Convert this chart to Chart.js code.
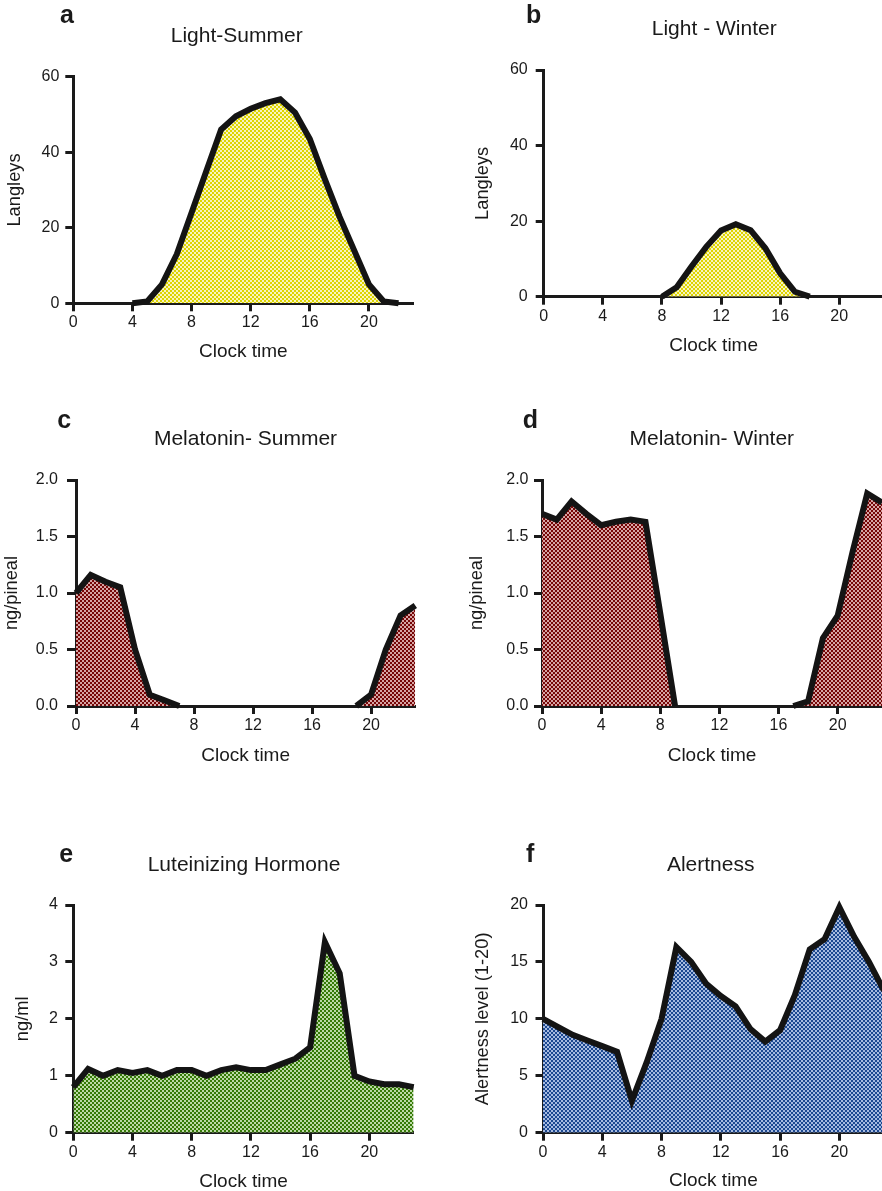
<!DOCTYPE html>
<html>
<head>
<meta charset="utf-8">
<script src="https://cdn.jsdelivr.net/npm/chart.js@4.4.1/dist/chart.umd.min.js"></script>
<style>
  html, body { margin: 0; padding: 0; background: #fff; }
  body { width: 882px; height: 1191px; overflow: hidden; position: relative; }
  canvas { position: absolute; }
</style>
</head>
<body>
<canvas id="pa"></canvas>
<canvas id="pb"></canvas>
<canvas id="pc"></canvas>
<canvas id="pd"></canvas>
<canvas id="pe"></canvas>
<canvas id="pf"></canvas>
<script>
// Hour of day (x values shared by every panel)
const hours = [0, 1, 2, 3, 4, 5, 6, 7, 8, 9, 10, 11, 12, 13, 14, 15, 16, 17, 18, 19, 20, 21, 22, 23];
const hourTicks = [0, 4, 8, 12, 16, 20];

// Series (null = no measurement drawn)
const lightSummer = [null, null, null, null, 0, 0.5, 5, 13, 24, 35, 46, 49.5, 51.5, 53, 54, 50.5, 43.5, 33, 23, 14, 5, 0.5, 0, null];
const lightWinter = [null, null, null, null, null, null, null, null, 0, 2.5, 8, 13.2, 17.5, 19.2, 17.6, 12.8, 6.2, 1.3, 0, null, null, null, null, null];
const melatoninSummer = [1.0, 1.16, 1.1, 1.05, 0.5, 0.1, 0.05, 0, null, null, null, null, null, null, null, null, null, null, null, 0, 0.1, 0.5, 0.8, 0.89];
const melatoninWinter = [1.7, 1.65, 1.81, 1.7, 1.6, 1.63, 1.65, 1.63, 0.82, 0, null, null, null, null, null, null, null, 0, 0.04, 0.6, 0.8, 1.36, 1.88, 1.8];
const luteinizing = [0.8, 1.12, 1.0, 1.1, 1.05, 1.1, 1.0, 1.1, 1.1, 1.0, 1.1, 1.15, 1.1, 1.1, 1.2, 1.3, 1.5, 3.35, 2.8, 1.0, 0.9, 0.85, 0.85, 0.8];
const alertness = [10, 9.3, 8.6, 8.1, 7.6, 7.1, 2.8, 6.2, 10, 16.3, 15, 13.1, 12, 11.1, 9.1, 8, 9, 12.1, 16.1, 17, 19.8, 17.2, 15, 12.5];

// Y tick values
const lightTicks = [0, 20, 40, 60];
const melatoninTicks = [0, 0.5, 1.0, 1.5, 2.0];
const lhTicks = [0, 1, 2, 3, 4];
const alertTicks = [0, 5, 10, 15, 20];

const FONT = '"Liberation Sans", Arial, Helvetica, sans-serif';
const INK = '#1a1a1a';
const CANVAS_H = 380;
const Y_TITLE_SIZE = 18.3;
const X_TITLE_SIZE = 19;

// Small checkerboard fill used under each curve
function checker(dark, light) {
  const c = document.createElement('canvas');
  c.width = 4; c.height = 4;
  const g = c.getContext('2d');
  g.fillStyle = light; g.fillRect(0, 0, 4, 4);
  g.fillStyle = dark; g.fillRect(0, 0, 2, 2); g.fillRect(2, 2, 2, 2);
  return g.createPattern(c, 'repeat');
}

// Panel letter and heading
const panelText = {
  id: 'panelText',
  afterDraw(chart, args, o) {
    const ctx = chart.ctx;
    ctx.save();
    ctx.fillStyle = INK;
    ctx.textBaseline = 'alphabetic';
    ctx.textAlign = 'left';
    ctx.font = 'bold 25px ' + FONT;
    ctx.fillText(o.letter, o.letterX, o.letterY);
    ctx.textAlign = 'center';
    ctx.font = '21px ' + FONT;
    ctx.fillText(o.title, o.titleX, o.titleY);
    ctx.restore();
  }
};

const panels = [
  { id: 'pa', letter: 'a', title: 'Light-Summer', yTitle: 'Langleys', values: lightSummer, yTicks: lightTicks, dec: 0,
    dark: '#ddd400', light: '#f8f4c0',
    g: { cx: 0, cy: 0, cw: 441, left: 73.3, right: 413.3, top: 76.7, bottom: 303.3, yTitleX: 14.5, xTitleY: 351.7,
         yTl: 8, yPad: 6, letterX: 60, letterY: 23.3, titleX: 236.7, titleY: 42.3 } },
  { id: 'pb', letter: 'b', title: 'Light - Winter', yTitle: 'Langleys', values: lightWinter, yTicks: lightTicks, dec: 0,
    dark: '#ddd400', light: '#f8f4c0',
    g: { cx: 441, cy: 0, cw: 460, left: 543.7, right: 883.6, top: 70, bottom: 296.7, yTitleX: 482.5, xTitleY: 345.3,
         yTl: 8, yPad: 8, letterX: 526, letterY: 23.3, titleX: 714.2, titleY: 35 } },
  { id: 'pc', letter: 'c', title: 'Melatonin- Summer', yTitle: 'ng/pineal', values: melatoninSummer, yTicks: melatoninTicks, dec: 1,
    dark: '#760606', light: '#d6a4a4',
    g: { cx: 0, cy: 400, cw: 441, left: 76, right: 415.3, top: 480, bottom: 706, yTitleX: 12, xTitleY: 755.3,
         yTl: 9, yPad: 9, letterX: 57.3, letterY: 428.3, titleX: 245.5, titleY: 445 } },
  { id: 'pd', letter: 'd', title: 'Melatonin- Winter', yTitle: 'ng/pineal', values: melatoninWinter, yTicks: melatoninTicks, dec: 1,
    dark: '#760606', light: '#d6a4a4',
    g: { cx: 441, cy: 400, cw: 460, left: 542, right: 882, top: 480, bottom: 706, yTitleX: 477, xTitleY: 755.3,
         yTl: 8, yPad: 5.5, letterX: 522.7, letterY: 427.7, titleX: 711.8, titleY: 445 } },
  { id: 'pe', letter: 'e', title: 'Luteinizing Hormone', yTitle: 'ng/ml', values: luteinizing, yTicks: lhTicks, dec: 0,
    dark: '#357a06', light: '#bcd9a6',
    g: { cx: 0, cy: 830, cw: 441, left: 73.3, right: 413.7, top: 905, bottom: 1132.7, yTitleX: 23, xTitleY: 1181.7,
         yTl: 8, yPad: 7.5, letterX: 59.3, letterY: 862.3, titleX: 244, titleY: 870.7 } },
  { id: 'pf', letter: 'f', title: 'Alertness', yTitle: 'Alertness level (1-20)', values: alertness, yTicks: alertTicks, dec: 0,
    dark: '#1c4890', light: '#a7bbe0',
    g: { cx: 441, cy: 830, cw: 460, left: 543, right: 883.8, top: 905, bottom: 1132.7, yTitleX: 482.5, xTitleY: 1180.5,
         yTl: 7.5, yPad: 7.5, letterX: 526, letterY: 862.3, titleX: 710.7, titleY: 870.7 } }
];

panels.forEach(p => {
  const g = p.g;
  const canvas = document.getElementById(p.id);
  canvas.width = g.cw; canvas.height = CANVAS_H;
  canvas.style.left = g.cx + 'px'; canvas.style.top = g.cy + 'px';
  canvas.style.width = g.cw + 'px'; canvas.style.height = CANVAS_H + 'px';

  const yHalf = Y_TITLE_SIZE * 1.2 / 2;
  const xHalf = X_TITLE_SIZE * 1.2 / 2;
  const padLeft = g.yTitleX - g.cx - yHalf;
  const yWidth = g.left - g.cx - padLeft;
  const xBottom = g.xTitleY + xHalf;
  const xHeight = xBottom - g.bottom;
  const padding = { left: padLeft, top: g.top - g.cy, right: g.cx + g.cw - g.right, bottom: g.cy + CANVAS_H - xBottom };

  const points = hours.map((h, i) => ({ x: h, y: p.values[i] }));
  const yMin = p.yTicks[0], yMax = p.yTicks[p.yTicks.length - 1];

  new Chart(canvas, {
    type: 'line',
    data: {
      datasets: [{
        data: points,
        borderColor: '#141414',
        borderWidth: 6,
        borderJoinStyle: 'miter',
        borderCapStyle: 'butt',
        backgroundColor: checker(p.dark, p.light),
        fill: 'origin',
        tension: 0,
        spanGaps: false,
        pointRadius: 0,
        pointHoverRadius: 0,
        clip: false
      }]
    },
    options: {
      responsive: false,
      animation: false,
      events: [],
      layout: { padding },
      plugins: {
        legend: { display: false },
        tooltip: { enabled: false },
        panelText: {
          letter: p.letter, title: p.title,
          letterX: g.letterX - g.cx, letterY: g.letterY - g.cy,
          titleX: g.titleX - g.cx, titleY: g.titleY - g.cy
        }
      },
      scales: {
        x: {
          type: 'linear', min: 0, max: 23,
          afterBuildTicks: s => { s.ticks = hourTicks.map(v => ({ value: v })); },
          afterFit: s => { s.height = xHeight; },
          border: { display: true, color: INK, width: 3 },
          grid: { display: true, drawOnChartArea: false, drawTicks: true, tickLength: 8, tickWidth: 3, tickColor: INK, color: INK },
          ticks: { color: INK, font: { family: FONT, size: 16 }, padding: 2, maxRotation: 0, autoSkip: false },
          title: { display: true, text: 'Clock time', color: INK, font: { family: FONT, size: X_TITLE_SIZE }, padding: 0 }
        },
        y: {
          type: 'linear', min: yMin, max: yMax,
          afterBuildTicks: s => { s.ticks = p.yTicks.map(v => ({ value: v })); },
          afterFit: s => { s.width = yWidth; },
          border: { display: true, color: INK, width: 3 },
          grid: { display: true, drawOnChartArea: false, drawTicks: true, tickLength: g.yTl, tickWidth: 3, tickColor: INK, color: INK },
          ticks: { color: INK, font: { family: FONT, size: 16 }, padding: g.yPad, autoSkip: false,
                   callback: v => Number(v).toFixed(p.dec) },
          title: { display: true, text: p.yTitle, color: INK, font: { family: FONT, size: Y_TITLE_SIZE }, padding: 0 }
        }
      }
    },
    plugins: [panelText]
  });
});
</script>
</body>
</html>
